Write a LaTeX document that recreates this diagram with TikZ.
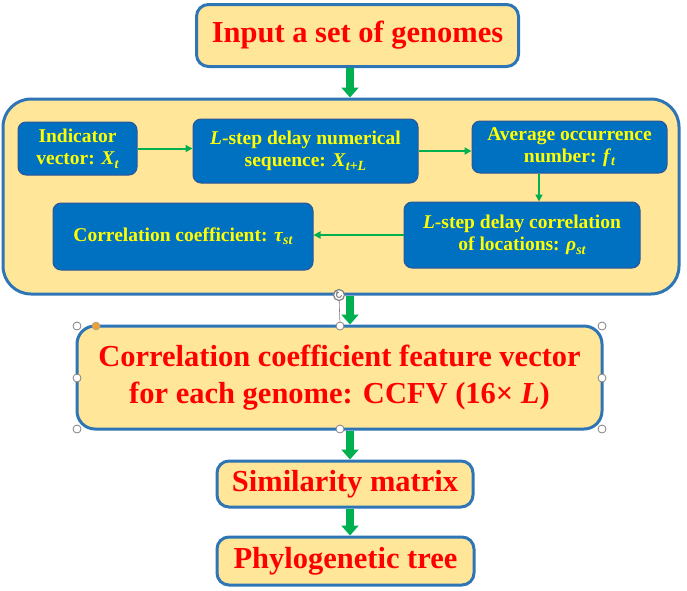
\documentclass[tikz,border=0pt]{standalone}
\usepackage{fontspec}
\setmainfont{Liberation Serif}
\usetikzlibrary{arrows.meta}
\definecolor{boxfill}{HTML}{FFE699}
\definecolor{boxline}{HTML}{2E75B6}
\definecolor{innerfill}{HTML}{0070C0}
\definecolor{innerline}{HTML}{2F5597}
\definecolor{txtred}{HTML}{FF0000}
\definecolor{txtyel}{HTML}{FFFF00}
\definecolor{arrgreen}{HTML}{00B050}
\definecolor{handleorange}{HTML}{F0A030}
\newcommand\mysub[1]{\raisebox{-0.35ex}{\fontsize{14}{14}\selectfont\itshape #1}}
\begin{document}
\begin{tikzpicture}[x=1pt,y=-1pt,
  outerbox/.style={draw=boxline, line width=3pt, fill=boxfill, rounded corners=12pt,
    text=txtred, font=\fontsize{30.5}{36.5}\selectfont\bfseries, align=center, inner sep=0pt},
  innerbox/.style={draw=innerline, line width=1pt, fill=innerfill, rounded corners=8pt,
    text=txtyel, font=\fontsize{19.5}{22.5}\selectfont\bfseries, align=center, inner sep=0pt},
  bigarrow/.style={draw=arrgreen, line width=8pt, -{Triangle[width=17pt,length=10pt]}},
  smallarrow/.style={draw=arrgreen, line width=2pt, -{Triangle[width=7pt,length=7pt]}},
  handle/.style={circle, draw=gray, fill=white, line width=0.8pt, minimum size=8pt, inner sep=0pt}
]
\useasboundingbox (0,0) rectangle (687,590);

\coordinate (ax) at (350,0);
\coordinate (vx) at (539,0);

% top box
\node[outerbox, minimum width=322pt, minimum height=62pt] (top) at (357.5,35.5) {Input a set of genomes};

% container
\node[draw=boxline, line width=3pt, fill=boxfill, rounded corners=28pt,
      minimum width=676pt, minimum height=195pt] (cont) at (341,196.5) {};

% inner boxes
\node[innerbox, minimum width=119pt, minimum height=53pt] (ind) at (77.5,148.5)
  {Indicator\\vector: \textit{X}\mysub{t}};
\node[innerbox, minimum width=225pt, minimum height=64pt] (lnum) at (305.5,151)
  {\textit{L}-step delay numerical\\sequence: \textit{X}\mysub{t{\upshape+}L}};
\node[innerbox, minimum width=195pt, minimum height=52pt] (avg) at (569.5,147)
  {Average occurrence\\number: \textit{f}\mysub{t}};
\node[innerbox, minimum width=236pt, minimum height=66pt] (lcor) at (522,235)
  {\textit{L}-step delay correlation\\of locations: \textit{ρ}\mysub{st}};
\node[innerbox, minimum width=260pt, minimum height=67pt] (ccoef) at (183,236.5)
  {Correlation coefficient: \textit{τ}\mysub{st}};

% lower boxes
\node[outerbox, rounded corners=18pt, minimum width=525pt, minimum height=103pt] (ccfv) at (339.5,377.5)
  {Correlation coefficient feature vector\\for each genome: CCFV (16× \textit{L})};
\node[outerbox, minimum width=256pt, minimum height=46pt] (sim) at (345,484) {Similarity matrix};
\node[outerbox, minimum width=257pt, minimum height=48pt] (phy) at (345.5,561) {Phylogenetic tree};

% inner arrows
\draw[smallarrow] (ind.east) -- (ind.east -| lnum.west);
\draw[smallarrow] (lnum.east) -- (lnum.east -| avg.west);
\draw[smallarrow] (avg.south -| vx) -- (lcor.north -| vx);
\draw[smallarrow] (lcor.west) -- (lcor.west -| ccoef.east);

% big arrows
\draw[bigarrow] (top.south -| ax) -- (cont.north -| ax);
\draw[bigarrow] (cont.south -| ax) -- (ccfv.north -| ax);
\draw[bigarrow] (ccfv.south -| ax) -- (sim.north -| ax);
\draw[bigarrow] (sim.south -| ax) -- (phy.north -| ax);

% selection handles (as shown in the reference)
\coordinate (rot) at (339,295);
\node[handle] (h2) at (340,326) {};
\draw[gray, line width=0.6pt] (rot) -- (h2);
\node[circle, draw=gray, fill=white, line width=1.2pt, minimum size=11pt, inner sep=0pt] (roth) at (rot) {};
\draw[gray, line width=1pt, -{Triangle[width=3pt,length=2.5pt]}] ([shift={(2.5,0)}]rot) arc[start angle=0, end angle=-270, radius=2.5pt];
\node[handle] (h1) at (77,326) {};
\node[handle] (h3) at (602,326) {};
\node[handle] (h4) at (77,378) {};
\node[handle] (h5) at (602,378) {};
\node[handle] (h6) at (77,429) {};
\node[handle] (h7) at (340,429) {};
\node[handle] (h8) at (602,429) {};
\node[circle, draw=gray!70, fill=handleorange, line width=0.6pt, minimum size=8pt, inner sep=0pt] (ho) at (96,326) {};
\end{tikzpicture}
\end{document}
